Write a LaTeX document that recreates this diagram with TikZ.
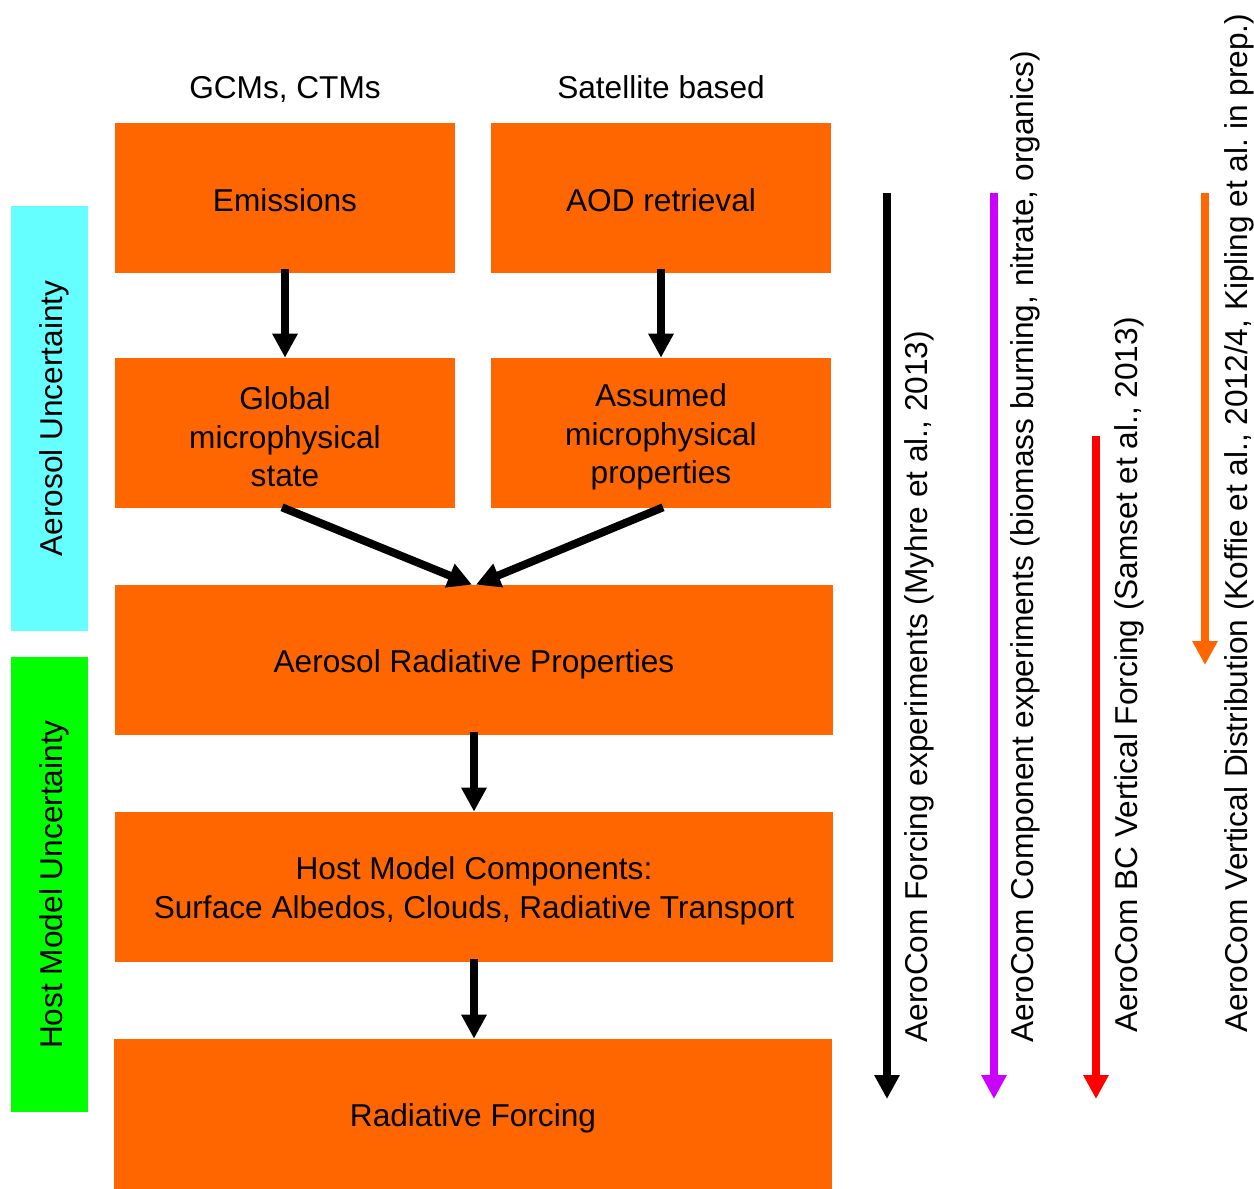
\documentclass[tikz,border=0pt]{standalone}
\usepackage{fontspec}
\setmainfont{Liberation Sans}
\usetikzlibrary{arrows.meta,calc}
\frenchspacing
\definecolor{boxorange}{HTML}{FF6600}
\definecolor{aercyan}{HTML}{66FFFF}
\definecolor{hostgreen}{HTML}{00FF00}
\definecolor{comppurple}{HTML}{CC00FF}
\definecolor{bcred}{HTML}{FF0000}
\newcommand{\topstrut}{\rule{0pt}{17.5pt}}
\tikzset{
  txt/.style={font=\fontsize{18pt}{22pt}\selectfont, inner sep=0pt},
  obox/.style={txt, fill=boxorange, minimum height=3cm, align=center},
  smallbox/.style={obox, minimum width=6.8cm},
  widebox/.style={obox, minimum width=14.36cm},
  flow/.style={line width=0.16cm, -{Triangle[width=0.48cm,length=0.48cm]}},
  vtext/.style={txt, rotate=90, anchor=base west},
  band/.style={inner sep=0pt, minimum width=1.54cm},
}
\begin{document}
\begin{tikzpicture}[x=0.02cm,y=-0.02cm]
\useasboundingbox (0,0) rectangle (1254,1189);
% side bands
\node[band, fill=aercyan, minimum height=8.5cm] (aband) at (49.5,418.5) {};
\node[band, fill=hostgreen, minimum height=9.1cm] (hband) at (49.5,884.5) {};
\node[txt, rotate=90, anchor=base] (alab) at (62,418.5) {Aerosol Uncertainty};
\node[txt, rotate=90, anchor=base] (hlab) at (62,884.5) {Host Model Uncertainty};
% column titles
\node[txt, anchor=base] (gcm) at (285,99) {GCMs, CTMs};
\node[txt, anchor=base] (sat) at (661,99) {Satellite based};
% boxes
\node[smallbox] (em) at (285,198) {\rule{0pt}{16pt}Emissions};
\node[smallbox] (aod) at (661,198) {\rule{0pt}{16pt}AOD retrieval};
\node[smallbox] (gm) at (285,433) {\topstrut Global\\microphysical\\state};
\node[smallbox] (amp) at (661,433) {\topstrut Assumed\\microphysical\\properties};
\node[widebox] (arp) at (474,660) {\topstrut Aerosol Radiative Properties};
\node[widebox] (hmc) at (474,887) {\topstrut Host Model Components:\\Surface Albedos, Clouds, Radiative Transport};
\node[widebox] (rf) at (473,1114) {\topstrut Radiative Forcing};
% flow arrows
\draw[flow] ($(em.south)+(0,-4)$) -- (gm.north);
\draw[flow] ($(aod.south)+(0,-4)$) -- (amp.north);
\draw[flow] ($(gm.south)+(-3,-1)$) -- ($(arp.north)+(-2,0)$);
\draw[flow] ($(amp.south)+(2,-1)$) -- ($(arp.north)+(2,0)$);
\draw[flow] ($(arp.south)+(0,-3)$) -- (hmc.north);
\draw[flow] ($(hmc.south)+(0,-3)$) -- ($(rf.north)+(1,0)$);
% experiment arrows
\coordinate (k1) at (887,193); \coordinate (k2) at (887,1099);
\coordinate (p1) at (994,193); \coordinate (p2) at (994,1099);
\coordinate (r1) at (1096,436); \coordinate (r2) at (1096,1099);
\coordinate (o1) at (1205,193); \coordinate (o2) at (1205,665);
\draw[flow, black] (k1) -- (k2);
\draw[flow, comppurple] (p1) -- (p2);
\draw[flow, bcred] (r1) -- (r2);
\draw[flow, boxorange] (o1) -- (o2);
\node[vtext] (kt) at (927,1043) {AeroCom Forcing experiments (Myhre et al., 2013)};
\node[vtext] (pt) at (1033,1043) {AeroCom Component experiments (biomass burning, nitrate, organics)};
\node[vtext] (rt) at (1137,1033) {AeroCom BC Vertical Forcing (Samset et al., 2013)};
\node[vtext] (ot) at (1247,1033) {AeroCom Vertical Distribution (Koffie et al., 2012/4, Kipling et al. in prep.)};
\end{tikzpicture}
\end{document}
